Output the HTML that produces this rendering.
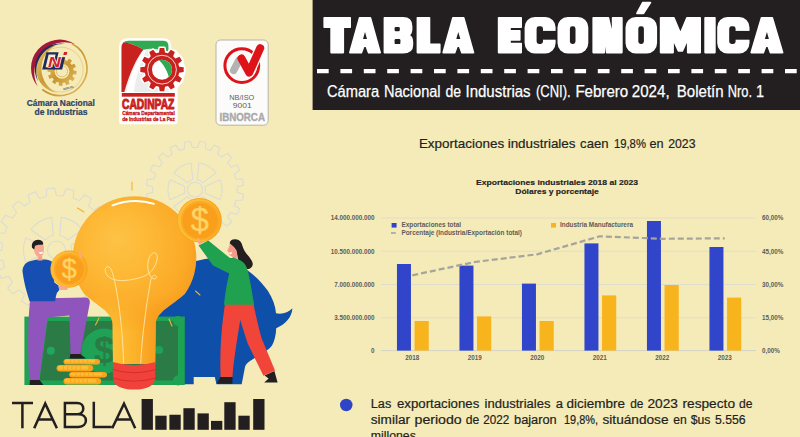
<!DOCTYPE html>
<html><head><meta charset="utf-8"><title>Tabla Económica</title>
<style>
html,body{margin:0;padding:0;background:#f5ebb8;}
body{width:800px;height:437px;overflow:hidden;font-family:"Liberation Sans",sans-serif;}
svg{display:block;font-family:"Liberation Sans",sans-serif;}
</style></head><body>
<svg width="800" height="437" viewBox="0 0 800 437">
<rect width="800" height="437" fill="#f5ebb8"/>
<rect x="312.6" y="0" width="488" height="110" fill="#231f20"/>
<g fill="#fff" stroke="#fff" stroke-width="1.6" stroke-linejoin="round"><path d="M324.2,17.7 L350.2,17.7 L350.2,27.3 L343.3,27.3 L343.3,52.6 L331.1,52.6 L331.1,27.3 L324.2,27.3Z"/><path d="M349.8,52.6 L359.6,17.7 L370.4,17.7 L380.2,52.6 L368.6,52.6 L366.2,46.1 L363.8,46.1 L361.4,52.6Z"/><path d="M384.4,17.7 H402.9 Q411.6,17.7 411.6,26.2 V29.2 Q411.6,33.5 408.8,35.1 Q412.4,36.9 412.4,41.7 V45.2 Q412.4,52.6 402.9,52.6 H384.4Z"/><path d="M417.4,17.7 L429.5,17.7 L429.5,44.3 L439.8,44.3 L439.8,52.6 L417.4,52.6Z"/><path d="M443.1,52.6 L452.9,17.7 L463.7,17.7 L473.5,52.6 L461.9,52.6 L459.5,46.1 L457.1,46.1 L454.7,52.6Z"/><path d="M498.6,17.7 L521.2,17.7 L521.2,27.3 L510,27.3 L510,30.8 L519.8,30.8 L519.8,39.9 L510,39.9 L510,43.5 L521.2,43.5 L521.2,52.6 L498.6,52.6Z"/><path d="M534.9,17.7 h10.4 a9.5,9.5 0 0 1 9.5,9.5 v15.9 a9.5,9.5 0 0 1 -9.5,9.5 h-10.4 a9.5,9.5 0 0 1 -9.5,-9.5 v-15.9 a9.5,9.5 0 0 1 9.5,-9.5Z"/><path d="M567.8,17.7 h10.2 a9.5,9.5 0 0 1 9.5,9.5 v15.9 a9.5,9.5 0 0 1 -9.5,9.5 h-10.2 a9.5,9.5 0 0 1 -9.5,-9.5 v-15.9 a9.5,9.5 0 0 1 9.5,-9.5Z"/><path d="M593.2,17.7 L608.4,17.7 L612.6,36.2 L612.6,17.7 L621.9,17.7 L621.9,52.6 L606.7,52.6 L604.3,34.1 L604.3,52.6 L593.2,52.6Z"/><path d="M635.8,17.7 h11 a9.5,9.5 0 0 1 9.5,9.5 v15.9 a9.5,9.5 0 0 1 -9.5,9.5 h-11 a9.5,9.5 0 0 1 -9.5,-9.5 v-15.9 a9.5,9.5 0 0 1 9.5,-9.5Z"/><path d="M642.7,2.6 L650.5,2.6 L643.5,13.4 L636.9,13.4Z"/><path d="M660.6,17.7 L673.9,17.7 L680.4,33.2 L686.9,17.7 L700.2,17.7 L700.2,52.6 L687.7,52.6 L687.7,39.2 L682.4,51 L678.4,51 L673.1,39.2 L673.1,52.6 L660.6,52.6Z"/><path d="M705.1,17.7 L714.9,17.7 L714.9,52.6 L705.1,52.6Z"/><path d="M727.5,17.7 h11.7 a9.5,9.5 0 0 1 9.5,9.5 v15.9 a9.5,9.5 0 0 1 -9.5,9.5 h-11.7 a9.5,9.5 0 0 1 -9.5,-9.5 v-15.9 a9.5,9.5 0 0 1 9.5,-9.5Z"/><path d="M751.2,52.6 L761.5,17.7 L772.3,17.7 L782.6,52.6 L770.5,52.6 L768.1,46.1 L765.7,46.1 L763.3,52.6Z"/></g><g fill="#231f20"><path d="M365,31.9 L367,38.9 L363,38.9Z"/><path d="M395.8,26.9 h2.8 a1.2,1.2 0 0 1 1.2,1.2 v1.9 a1.2,1.2 0 0 1 -1.2,1.2 h-2.8 a1.2,1.2 0 0 1 -1.2,-1.2 v-1.9 a1.2,1.2 0 0 1 1.2,-1.2Z"/><path d="M395.8,39.1 h3.4 a1.2,1.2 0 0 1 1.2,1.2 v2.6 a1.2,1.2 0 0 1 -1.2,1.2 h-3.4 a1.2,1.2 0 0 1 -1.2,-1.2 v-2.6 a1.2,1.2 0 0 1 1.2,-1.2Z"/><path d="M458.3,31.9 L460.3,38.9 L456.3,38.9Z"/><path d="M539,26.3 h1.6 a2.4,2.4 0 0 1 2.4,2.4 v12.9 a2.4,2.4 0 0 1 -2.4,2.4 h-1.6 a2.4,2.4 0 0 1 -2.4,-2.4 v-12.9 a2.4,2.4 0 0 1 2.4,-2.4Z"/><path d="M539.9,30.9 H556.8 V39.7 H539.9Z"/><path d="M572.3,26.3 h0.8 a2.4,2.4 0 0 1 2.4,2.4 v12.9 a2.4,2.4 0 0 1 -2.4,2.4 h-0.8 a2.4,2.4 0 0 1 -2.4,-2.4 v-12.9 a2.4,2.4 0 0 1 2.4,-2.4Z"/><path d="M640.7,26.3 h0.8 a2.4,2.4 0 0 1 2.4,2.4 v12.9 a2.4,2.4 0 0 1 -2.4,2.4 h-0.8 a2.4,2.4 0 0 1 -2.4,-2.4 v-12.9 a2.4,2.4 0 0 1 2.4,-2.4Z"/><path d="M731.6,26.3 h1.6 a2.4,2.4 0 0 1 2.4,2.4 v12.9 a2.4,2.4 0 0 1 -2.4,2.4 h-1.6 a2.4,2.4 0 0 1 -2.4,-2.4 v-12.9 a2.4,2.4 0 0 1 2.4,-2.4Z"/><path d="M732.5,30.9 H750.7 V39.7 H732.5Z"/><path d="M766.9,31.9 L768.9,38.9 L764.9,38.9Z"/></g>
<line x1="317" y1="71.2" x2="800" y2="71.2" stroke="#fff" stroke-width="4.3" stroke-dasharray="11.7 11.7"/>
<g font-size="16" fill="#fff" stroke="#fff" stroke-width="0.25">
<text x="326.9" y="96.6" textLength="52.2" lengthAdjust="spacingAndGlyphs">Cámara</text>
<text x="383.9" y="96.6" textLength="56.7" lengthAdjust="spacingAndGlyphs">Nacional</text>
<text x="445.4" y="96.6" textLength="15.6" lengthAdjust="spacingAndGlyphs">de</text>
<text x="465.5" y="96.6" textLength="65.1" lengthAdjust="spacingAndGlyphs">Industrias</text>
<text x="536" y="96.6" textLength="34.6" lengthAdjust="spacingAndGlyphs">(CNI).</text>
<text x="575.4" y="96.6" textLength="52.8" lengthAdjust="spacingAndGlyphs">Febrero</text>
<text x="631.8" y="96.6" textLength="37.8" lengthAdjust="spacingAndGlyphs">2024,</text>
<text x="676.8" y="96.6" textLength="46.8" lengthAdjust="spacingAndGlyphs">Boletín</text>
<text x="727.8" y="96.6" textLength="24.3" lengthAdjust="spacingAndGlyphs">Nro.</text>
<text x="756" y="96.6" textLength="8.1" lengthAdjust="spacingAndGlyphs">1</text>
</g>
<g font-size="13" fill="#231f20" stroke="#231f20" stroke-width="0.2"><text x="418.9" y="147.8" textLength="85.3" lengthAdjust="spacingAndGlyphs">Exportaciones</text><text x="507.7" y="147.8" textLength="67.8" lengthAdjust="spacingAndGlyphs">industriales</text><text x="580.1" y="147.8" textLength="28.4" lengthAdjust="spacingAndGlyphs">caen</text><text x="613.9" y="147.8" textLength="32.1" lengthAdjust="spacingAndGlyphs">19,8%</text><text x="649.5" y="147.8" textLength="14.1" lengthAdjust="spacingAndGlyphs">en</text><text x="668.2" y="147.8" textLength="27.3" lengthAdjust="spacingAndGlyphs">2023</text></g>
<g font-weight="bold" font-size="7.6" fill="#222" stroke="#222" stroke-width="0.15" text-anchor="middle"><text x="557" y="185" textLength="162" lengthAdjust="spacingAndGlyphs">Exportaciones industriales 2018 al 2023</text><text x="557" y="194.3" textLength="83.5" lengthAdjust="spacingAndGlyphs">Dólares y porcentaje</text></g>
<line x1="381" y1="218" x2="756" y2="218" stroke="#dfddcc" stroke-width="1"/>
<line x1="381" y1="251.25" x2="756" y2="251.25" stroke="#dfddcc" stroke-width="1"/>
<line x1="381" y1="284.5" x2="756" y2="284.5" stroke="#dfddcc" stroke-width="1"/>
<line x1="381" y1="317.75" x2="756" y2="317.75" stroke="#dfddcc" stroke-width="1"/>
<line x1="381" y1="350.6" x2="756" y2="350.6" stroke="#d3d2c6" stroke-width="1"/>
<g font-size="6.3" fill="#5c5c5c" font-weight="bold">
<text x="374.6" y="220.3" text-anchor="end">14.000.000.000</text>
<text x="762" y="220.3">60,00%</text>
<text x="374.6" y="253.55" text-anchor="end">10.500.000.000</text>
<text x="762" y="253.55">45,00%</text>
<text x="374.6" y="286.8" text-anchor="end">7.000.000.000</text>
<text x="762" y="286.8">30,00%</text>
<text x="374.6" y="320.05" text-anchor="end">3.500.000.000</text>
<text x="762" y="320.05">15,00%</text>
<text x="374.6" y="352.9" text-anchor="end">0</text>
<text x="762" y="352.9">0,00%</text>
<text x="412.25" y="359.7" text-anchor="middle">2018</text>
<text x="474.75" y="359.7" text-anchor="middle">2019</text>
<text x="537.25" y="359.7" text-anchor="middle">2020</text>
<text x="599.75" y="359.7" text-anchor="middle">2021</text>
<text x="662.25" y="359.7" text-anchor="middle">2022</text>
<text x="724.75" y="359.7" text-anchor="middle">2023</text>
</g>
<rect x="396.95" y="264" width="14" height="86.6" fill="#3145cb"/>
<rect x="414.55" y="321" width="14.2" height="29.6" fill="#f8b41d"/>
<rect x="459.45" y="265.6" width="14" height="85" fill="#3145cb"/>
<rect x="477.05" y="316.4" width="14.2" height="34.2" fill="#f8b41d"/>
<rect x="521.95" y="283.6" width="14" height="67" fill="#3145cb"/>
<rect x="539.55" y="321" width="14.2" height="29.6" fill="#f8b41d"/>
<rect x="584.45" y="243.4" width="14" height="107.2" fill="#3145cb"/>
<rect x="602.05" y="295.4" width="14.2" height="55.2" fill="#f8b41d"/>
<rect x="646.95" y="221" width="14" height="129.6" fill="#3145cb"/>
<rect x="664.55" y="285" width="14.2" height="65.6" fill="#f8b41d"/>
<rect x="709.45" y="247" width="14" height="103.6" fill="#3145cb"/>
<rect x="727.05" y="297.6" width="14.2" height="53" fill="#f8b41d"/>
<polyline points="412.25,275.3 474.75,262 537.25,254.3 599.75,236.3 662.25,238.8 724.75,238.3" fill="none" stroke="#a6a49d" stroke-width="2.2" stroke-dasharray="6 3"/>
<rect x="391.6" y="223" width="5" height="4.6" fill="#3145cb"/>
<rect x="551" y="223" width="5" height="4.6" fill="#f8b41d"/>
<line x1="391" y1="233" x2="395.8" y2="233" stroke="#a3a3a3" stroke-width="1.6"/>
<g font-size="6.3" fill="#5c5c5c" font-weight="bold"><text x="401.4" y="227.4" textLength="59.6" lengthAdjust="spacingAndGlyphs">Exportaciones total</text><text x="560" y="227.4" textLength="73" lengthAdjust="spacingAndGlyphs">Industria Manufacturera</text><text x="401.4" y="235.4" textLength="120.6" lengthAdjust="spacingAndGlyphs">Porcentaje (Industria/Exportación total)</text></g>
<circle cx="346.25" cy="405" r="6.25" fill="#2f45c5"/>
<g font-size="12" fill="#231f20" stroke="#231f20" stroke-width="0.2">
<text x="370.75" y="408.25" textLength="20.5" lengthAdjust="spacingAndGlyphs">Las</text>
<text x="397" y="408.25" textLength="82.25" lengthAdjust="spacingAndGlyphs">exportaciones</text>
<text x="484.5" y="408.25" textLength="66" lengthAdjust="spacingAndGlyphs">industriales</text>
<text x="555.75" y="408.25" textLength="7.25" lengthAdjust="spacingAndGlyphs">a</text>
<text x="566.5" y="408.25" textLength="58.5" lengthAdjust="spacingAndGlyphs">diciembre</text>
<text x="630.25" y="408.25" textLength="13.25" lengthAdjust="spacingAndGlyphs">de</text>
<text x="647.5" y="408.25" textLength="30.5" lengthAdjust="spacingAndGlyphs">2023</text>
<text x="682.5" y="408.25" textLength="52.5" lengthAdjust="spacingAndGlyphs">respecto</text>
<text x="739" y="408.25" textLength="13.5" lengthAdjust="spacingAndGlyphs">de</text>
<text x="370.75" y="424.25" textLength="39.25" lengthAdjust="spacingAndGlyphs">similar</text>
<text x="414.5" y="424.25" textLength="47.25" lengthAdjust="spacingAndGlyphs">periodo</text>
<text x="465.75" y="424.25" textLength="13.5" lengthAdjust="spacingAndGlyphs">de</text>
<text x="483.25" y="424.25" textLength="26" lengthAdjust="spacingAndGlyphs">2022</text>
<text x="514" y="424.25" textLength="42.75" lengthAdjust="spacingAndGlyphs">bajaron</text>
<text x="564" y="424.25" textLength="34" lengthAdjust="spacingAndGlyphs">19,8%,</text>
<text x="602.5" y="424.25" textLength="66" lengthAdjust="spacingAndGlyphs">situándose</text>
<text x="673.25" y="424.25" textLength="13.5" lengthAdjust="spacingAndGlyphs">en</text>
<text x="690.75" y="424.25" textLength="19.75" lengthAdjust="spacingAndGlyphs">$us</text>
<text x="715" y="424.25" textLength="30.5" lengthAdjust="spacingAndGlyphs">5.556</text>
<text x="370.75" y="440.25" textLength="48.5" lengthAdjust="spacingAndGlyphs">millones.</text>
</g>
<defs><linearGradient id="gold" x1="0" y1="0" x2="1" y2="1"><stop offset="0" stop-color="#e9c977"/><stop offset="0.5" stop-color="#c9952f"/><stop offset="1" stop-color="#e3bd63"/></linearGradient></defs>
<path d="M72.46,44.01 A27.4,27.4 0 1 1 42.73,89.79" fill="none" stroke="url(#gold)" stroke-width="1.7" stroke-linecap="round"/>
<path fill="url(#gold)" d="M58.29,93.11 A24.2,24.2 0 0 1 57.03,45.04 A25.9,25.9 0 0 0 58.29,93.11Z"/>
<circle cx="60.8" cy="69.6" r="22.4" fill="none" stroke="#d9b25a" stroke-width="0.6" opacity="0.8"/>
<path fill="#a3173a" d="M37.69,86.58 A28.6,28.6 0 0 1 74.76,43.95 A30.4,30.4 0 0 0 37.69,86.58Z"/>
<path fill="#1d2c5c" d="M38.2,81.5 A25.4,25.4 0 0 1 65.48,43.96 A27.3,27.3 0 0 0 38.2,81.5Z"/>
<path fill="url(#gold)" d="M73.57,70.52 L76.6,70.93 L76.23,74.57 L73.19,74.37 L72.41,76.41 L74.83,78.27 L72.69,81.24 L70.16,79.55 L68.46,80.93 L69.62,83.75 L66.29,85.26 L64.94,82.52 L62.78,82.87 L62.37,85.9 L58.73,85.53 L58.93,82.49 L56.89,81.71 L55.03,84.13 L52.06,81.99 L53.75,79.46 L52.37,77.76 L49.55,78.92 L48.04,75.59 L50.78,74.24 L50.43,72.08 L47.4,71.67 L47.77,68.03 L50.81,68.23 L51.59,66.19 L49.17,64.33 L51.31,61.36 L53.84,63.05 L55.54,61.67 L54.38,58.85 L57.71,57.34 L59.06,60.08 L61.22,59.73 L61.63,56.7 L65.27,57.07 L65.07,60.11 L67.11,60.89 L68.97,58.47 L71.94,60.61 L70.25,63.14 L71.63,64.84 L74.45,63.68 L75.96,67.01 L73.22,68.36Z"/>
<circle cx="62" cy="71.3" r="7.4" fill="#f5ebb8"/><circle cx="62" cy="71.3" r="5.6" fill="none" stroke="#d9b25a" stroke-width="0.8"/>
<g transform="translate(0,0)">
<path fill="#1d2c5c" fill-rule="evenodd" d="M46.4,52.2 L58.6,52.2 L54.4,69.6 L42.2,69.6Z M48.6,54.6 L55.6,54.6 L52.6,67.2 L45.6,67.2Z"/>
<path fill="#1d2c5c" d="M61.4,57.2 L65,57.2 L62.2,69.6 L53.6,69.6 L54.2,67.2 L59.2,67.2Z"/>
<text x="54.3" y="67.3" font-size="15.4" font-weight="bold" font-style="italic" text-anchor="middle" fill="#d3202f" stroke="#fff" stroke-width="1.2" paint-order="stroke" textLength="12.8" lengthAdjust="spacingAndGlyphs">N</text>
<path fill="#d3202f" d="M64,52 L67.3,52 L66.6,55 L63.3,55Z"/>
</g>
<text transform="translate(63.4,90.2) rotate(-14)" font-size="2.6" font-weight="bold" fill="#1d2c5c" textLength="10.5" lengthAdjust="spacingAndGlyphs">DESDE 1931</text>
<g font-size="8.3" font-weight="bold" fill="#2c4464" stroke="#2c4464" stroke-width="0.2" text-anchor="middle"><text x="60.8" y="105.8" textLength="68" lengthAdjust="spacingAndGlyphs">Cámara Nacional</text><text x="61.05" y="115.2" textLength="52.9" lengthAdjust="spacingAndGlyphs">de Industrias</text></g>
<path fill="#fff" d="M127.5,38.2 L164,38.2 Q170.5,38.2 171,45 L171.6,50 Q176,48.6 177.5,52 L182,56.5 Q184,58.5 183.4,61 L185.6,68 L185.4,72.5 L183.6,79 Q184,82 181.5,83.5 L177.6,88 L177.6,121 Q177.6,124.2 174.5,124.2 L122,124.2 Q119,124.2 119,121 L119,47 Q119,38.2 127.5,38.2Z"/>
<clipPath id="cq"><path d="M128.5,40.8 L163,40.8 Q168.4,40.8 168.4,46.2 L168.4,92 L121.5,92 L121.5,47.8 Q121.5,40.8 128.5,40.8Z"/></clipPath>
<g clip-path="url(#cq)">
<rect x="121" y="40" width="48" height="53" fill="#ececec"/>
<path fill="#2faa52" d="M121,40 L169,40 L169,52 C160,49 150,48 143.5,49.7 C136,45 128,42.5 121,42.5Z"/>
<path fill="#c9211e" d="M121,42 C128,42.5 137,45.5 143.5,49.7 C137,57 130,72 124.3,92 L121,92Z"/>
<path fill="#fff" d="M143.5,49.7 C139,56 131,73 126.2,92 L134,92 C136,75 141,60 146.5,50.5Z"/>
</g>
<path d="M179.14,66.66 L183.68,67.37 L183.68,71.93 L179.14,72.64 L178.34,75.63 L181.92,78.52 L179.64,82.46 L175.35,80.81 L173.16,83 L174.81,87.29 L170.87,89.57 L167.98,85.99 L164.99,86.79 L164.28,91.33 L159.72,91.33 L159.01,86.79 L156.02,85.99 L153.13,89.57 L149.19,87.29 L150.84,83 L148.65,80.81 L144.36,82.46 L142.08,78.52 L145.66,75.63 L144.86,72.64 L140.32,71.93 L140.32,67.37 L144.86,66.66 L145.66,63.67 L142.08,60.78 L144.36,56.84 L148.65,58.49 L150.84,56.3 L149.19,52.01 L153.13,49.73 L156.02,53.31 L159.01,52.51 L159.72,47.97 L164.28,47.97 L164.99,52.51 L167.98,53.31 L170.87,49.73 L174.81,52.01 L173.16,56.3 L175.35,58.49 L179.64,56.84 L181.92,60.78 L178.34,63.67Z" fill="#fff" stroke="#fff" stroke-width="3" stroke-linejoin="round"/>
<path d="M179.14,66.66 L183.68,67.37 L183.68,71.93 L179.14,72.64 L178.34,75.63 L181.92,78.52 L179.64,82.46 L175.35,80.81 L173.16,83 L174.81,87.29 L170.87,89.57 L167.98,85.99 L164.99,86.79 L164.28,91.33 L159.72,91.33 L159.01,86.79 L156.02,85.99 L153.13,89.57 L149.19,87.29 L150.84,83 L148.65,80.81 L144.36,82.46 L142.08,78.52 L145.66,75.63 L144.86,72.64 L140.32,71.93 L140.32,67.37 L144.86,66.66 L145.66,63.67 L142.08,60.78 L144.36,56.84 L148.65,58.49 L150.84,56.3 L149.19,52.01 L153.13,49.73 L156.02,53.31 L159.01,52.51 L159.72,47.97 L164.28,47.97 L164.99,52.51 L167.98,53.31 L170.87,49.73 L174.81,52.01 L173.16,56.3 L175.35,58.49 L179.64,56.84 L181.92,60.78 L178.34,63.67Z" fill="#c9211e"/>
<circle cx="162" cy="69.65" r="14.4" fill="none" stroke="#fff" stroke-width="0.8"/>
<circle cx="162" cy="69.65" r="10" fill="#fff"/>
<clipPath id="cg"><circle cx="162" cy="69.65" r="10"/></clipPath>
<path clip-path="url(#cg)" fill="#2faa52" d="M157.5,59 C164,64 168,72 169.5,80 L175,80 L175,58Z"/>
<rect x="121.8" y="93" width="53" height="3.7" fill="#c9211e"/>
<g fill="#c9211e" font-weight="bold" stroke="#c9211e">
<text x="122" y="108.6" font-size="14.2" stroke-width="1" textLength="52.4" lengthAdjust="spacingAndGlyphs">CADINPAZ</text>
<text x="122.2" y="115.4" font-size="5.8" stroke-width="0.35" textLength="52.6" lengthAdjust="spacingAndGlyphs">Cámara Departamental</text>
<text x="122.2" y="121.1" font-size="5.8" stroke-width="0.35" textLength="52.6" lengthAdjust="spacingAndGlyphs">de Industrias de La Paz</text>
</g>
<rect x="216" y="40" width="52.2" height="85.2" rx="4.5" fill="#fbfbfa" stroke="#b9b3a6" stroke-width="1"/>
<circle cx="241.8" cy="65.6" r="16.9" fill="none" stroke="#de1219" stroke-width="3"/>
<path d="M241.4,58.4 L249.2,72.6 L260.2,48.2" stroke="#fbfbfa" stroke-width="10.6" stroke-linecap="round" stroke-linejoin="round" fill="none"/>
<path d="M233.6,70.4 L238.8,60.6" stroke="#b3b3b3" stroke-width="7.4" stroke-linecap="round" fill="none"/>
<path d="M241.4,58.4 L249.2,72.6 L260.2,48.2" stroke="#de1219" stroke-width="8" stroke-linecap="round" stroke-linejoin="round" fill="none"/>
<g font-size="6.8" fill="#5f5f5f" text-anchor="middle"><text x="241.8" y="100" textLength="25" lengthAdjust="spacingAndGlyphs">NB/ISO</text><text x="242.3" y="108.3" textLength="19" lengthAdjust="spacingAndGlyphs">9001</text></g>
<text x="242.2" y="121.2" font-size="10" font-weight="bold" fill="#a8a8aa" stroke="#a8a8aa" stroke-width="0.3" text-anchor="middle" textLength="45.5" lengthAdjust="spacingAndGlyphs">IBNORCA</text>
<defs><radialGradient id="bg1" cx="122" cy="250" r="84" fx="116" fy="238" gradientUnits="userSpaceOnUse"><stop offset="0" stop-color="#fec246"/><stop offset="0.4" stop-color="#fdb835"/><stop offset="0.78" stop-color="#fbaa27"/><stop offset="1" stop-color="#f8991d"/></radialGradient><linearGradient id="neck" x1="111" y1="0" x2="158" y2="0" gradientUnits="userSpaceOnUse"><stop offset="0" stop-color="#fdc139"/><stop offset="0.45" stop-color="#fcb42c"/><stop offset="1" stop-color="#f89c1e"/></linearGradient><linearGradient id="fade" x1="0" y1="296" x2="0" y2="332" gradientUnits="userSpaceOnUse"><stop offset="0" stop-color="#000"/><stop offset="1" stop-color="#fff"/></linearGradient><mask id="nm" maskUnits="userSpaceOnUse" x="60" y="280" width="160" height="100"><rect x="60" y="280" width="160" height="100" fill="url(#fade)"/></mask><clipPath id="bulbclip"><path d="M113,364 L112.6,324 C112.6,312 96,305 84.2,294 A61.8,61.8 0 1 1 184.8,294 C173,305 155.8,312 155.8,324 L155.2,364Z"/></clipPath></defs>
<g fill="none" stroke="#dadcd6" stroke-width="1.1" stroke-linejoin="round">
<path d="M110.58,256.73 L117.76,259.58 L116.07,267.18 L108.36,266.74 L105.86,273.11 L111.8,278.04 L107.85,284.75 L100.65,281.95 L96.3,287.23 L100.42,293.76 L94.59,298.92 L88.62,294.03 L82.85,297.71 L84.75,305.19 L77.61,308.29 L73.44,301.8 L66.81,303.52 L66.32,311.22 L58.57,311.97 L56.6,304.5 L49.77,304.08 L46.92,311.26 L39.32,309.57 L39.76,301.86 L33.39,299.36 L28.46,305.3 L21.75,301.35 L24.55,294.15 L19.27,289.8 L12.74,293.92 L7.58,288.09 L12.47,282.12 L8.79,276.35 L1.31,278.25 L-1.79,271.11 L4.7,266.94 L2.98,260.31 L-4.72,259.82 L-5.47,252.07 L2,250.1 L2.42,243.27 L-4.76,240.42 L-3.07,232.82 L4.64,233.26 L7.14,226.89 L1.2,221.96 L5.15,215.25 L12.35,218.05 L16.7,212.77 L12.58,206.24 L18.41,201.08 L24.38,205.97 L30.15,202.29 L28.25,194.81 L35.39,191.71 L39.56,198.2 L46.19,196.48 L46.68,188.78 L54.43,188.03 L56.4,195.5 L63.23,195.92 L66.08,188.74 L73.68,190.43 L73.24,198.14 L79.61,200.64 L84.54,194.7 L91.25,198.65 L88.45,205.85 L93.73,210.2 L100.26,206.08 L105.42,211.91 L100.53,217.88 L104.21,223.65 L111.69,221.75 L114.79,228.89 L108.3,233.06 L110.02,239.69 L117.72,240.18 L118.47,247.93 L111,249.9Z"/>
<circle cx="56.5" cy="250" r="9"/>
<path d="M87.18,237.85 A33,33 0 0 1 87.18,262.15 L70.77,254.64 A15,15 0 0 0 70.77,245.36Z M82.36,270.5 A33,33 0 0 1 61.32,282.65 L59.62,264.67 A15,15 0 0 0 67.65,260.04Z M51.68,282.65 A33,33 0 0 1 30.64,270.5 L45.35,260.04 A15,15 0 0 0 53.38,264.67Z M25.82,262.15 A33,33 0 0 1 25.82,237.85 L42.23,245.36 A15,15 0 0 0 42.23,254.64Z M30.64,229.5 A33,33 0 0 1 51.68,217.35 L53.38,235.33 A15,15 0 0 0 45.35,239.96Z M61.32,217.35 A33,33 0 0 1 82.36,229.5 L67.65,239.96 A15,15 0 0 0 59.62,235.33Z"/>
<path d="M237.22,192.35 L243.48,194.28 L242.53,200.32 L235.97,200.22 L234.33,205.27 L239.7,209.04 L236.92,214.49 L230.72,212.36 L227.59,216.66 L231.53,221.9 L227.21,226.23 L221.97,222.29 L217.67,225.41 L219.79,231.62 L214.34,234.39 L210.57,229.03 L205.52,230.67 L205.63,237.23 L199.59,238.18 L197.66,231.92 L192.35,231.92 L190.42,238.18 L184.38,237.23 L184.48,230.67 L179.43,229.03 L175.66,234.4 L170.21,231.62 L172.34,225.42 L168.04,222.29 L162.8,226.23 L158.47,221.91 L162.41,216.67 L159.29,212.37 L153.08,214.49 L150.31,209.04 L155.67,205.27 L154.03,200.22 L147.47,200.33 L146.52,194.29 L152.78,192.36 L152.78,187.05 L146.52,185.12 L147.47,179.08 L154.03,179.18 L155.67,174.13 L150.3,170.36 L153.08,164.91 L159.28,167.04 L162.41,162.74 L158.47,157.5 L162.79,153.17 L168.03,157.11 L172.33,153.99 L170.21,147.78 L175.66,145.01 L179.43,150.37 L184.48,148.73 L184.37,142.17 L190.41,141.22 L192.34,147.48 L197.65,147.48 L199.58,141.22 L205.62,142.17 L205.52,148.73 L210.57,150.37 L214.34,145 L219.79,147.78 L217.66,153.98 L221.96,157.11 L227.2,153.17 L231.53,157.49 L227.59,162.73 L230.71,167.03 L236.92,164.91 L239.69,170.36 L234.33,174.13 L235.97,179.18 L242.53,179.07 L243.48,185.11 L237.22,187.04Z"/>
<circle cx="195" cy="189.7" r="7.5"/>
<path d="M220.1,179.76 A27,27 0 0 1 220.1,199.64 L204.99,192.94 A10.5,10.5 0 0 0 204.99,186.46Z M216.16,206.47 A27,27 0 0 1 198.94,216.41 L197.18,199.97 A10.5,10.5 0 0 0 202.8,196.73Z M191.06,216.41 A27,27 0 0 1 173.84,206.47 L187.2,196.73 A10.5,10.5 0 0 0 192.82,199.97Z M169.9,199.64 A27,27 0 0 1 169.9,179.76 L185.01,186.46 A10.5,10.5 0 0 0 185.01,192.94Z M173.84,172.93 A27,27 0 0 1 191.06,162.99 L192.82,179.43 A10.5,10.5 0 0 0 187.2,182.67Z M198.94,162.99 A27,27 0 0 1 216.16,172.93 L202.8,182.67 A10.5,10.5 0 0 0 197.18,179.43Z"/>
</g>
<path fill="#0e4fa9" d="M150,384.2 L150,290 C165,268 200,257.5 218,258 C236,259.5 256,274 268,291 C272.5,298 275.5,306 276,313.2 C282,314.6 288.5,312.5 292.4,308.3 C292,317 285.5,324.5 276.2,328.2 C276,335 274.5,341 272,345.5 C268,351 256,357 250,361 C247,363 245.5,365 245,367 L241.7,384.2 L216.5,384.2 L214.8,377 L193.7,377 L193.7,384.2Z"/>
<rect x="24.4" y="316.6" width="160.4" height="68.4" fill="#1ea352"/>
<path fill="#2a7b46" d="M47.5,321 L178,321 L178,380.5 L39.5,380.5Z"/>
<circle cx="104" cy="351" r="22.5" fill="#1fa255"/>
<circle cx="50.8" cy="350.7" r="4" fill="#1fa75e"/><circle cx="159" cy="350" r="4" fill="#1fa255"/>
<circle cx="178" cy="321" r="5" fill="#1ea352"/><circle cx="178" cy="380.5" r="5" fill="#1ea352"/>
<text x="104.4" y="363.2" font-size="37.5" font-weight="bold" text-anchor="middle" fill="#2a7b46">$</text>
<g stroke="#f7b02c" stroke-width="1.1" stroke-linecap="round"><line x1="132" y1="182" x2="132" y2="190"/><line x1="77.5" y1="208" x2="84" y2="212"/><line x1="195.5" y1="291" x2="200" y2="295"/><line x1="169" y1="319" x2="172" y2="326"/><line x1="99" y1="318" x2="95.5" y2="325"/></g>
<path fill="url(#bg1)" d="M113,364 L112.6,324 C112.6,312 96,305 84.2,294 A61.8,61.8 0 1 1 184.8,294 C173,305 155.8,312 155.8,324 L155.2,364Z"/>
<g clip-path="url(#bulbclip)"><rect x="80" y="290" width="110" height="76" fill="url(#neck)" mask="url(#nm)"/></g>
<path d="M112.4,205.4 Q133,197.6 154,203.8" fill="none" stroke="#fff" stroke-width="1.9" stroke-linecap="round"/>
<g fill="none" stroke="#fde7a8" stroke-width="0.9" stroke-linecap="round"><path d="M123.6,363 C123,340 120,305 115,283 C113.5,276 112,268 108.5,266.8 C105,266 104,271 107,275 C111,281 122,281.5 132,279.5 C140,278 146,276 150,272.5 C155,268 159,258 156.5,254 C154,250.5 149,255 148,262 C147,269 149,276 153,278.5 C156,280 157.5,277 155.5,275.5 C154,274.5 151.5,276.5 150.8,280 C147,300 142,335 140.7,363"/></g>
<path fill="#f0423a" d="M112.9,362 Q134,368.5 155.3,362 L155.3,377 Q155,389.6 134.1,389.6 Q113.4,389.6 112.9,377Z"/>
<g fill="none" stroke="#d22f2b" stroke-width="1"><path d="M112.6,369.5 Q134,376 155.8,369.5"/><path d="M113,378 Q134,384.5 155.4,378"/></g>
<rect x="63.5" y="358.9" width="36.5" height="5.6" rx="3.1" fill="#f9a41c"/>
<rect x="64.7" y="359.6" width="30.5" height="3" rx="1.6" fill="#fdbd35"/>
<line x1="70.5" y1="359.6" x2="70.5" y2="363" stroke="#f9a41c" stroke-width="0.9"/>
<line x1="74.7" y1="359.6" x2="74.7" y2="363" stroke="#f9a41c" stroke-width="0.9"/>
<line x1="78.9" y1="359.6" x2="78.9" y2="363" stroke="#f9a41c" stroke-width="0.9"/>
<line x1="83.1" y1="359.6" x2="83.1" y2="363" stroke="#f9a41c" stroke-width="0.9"/>
<line x1="87.3" y1="359.6" x2="87.3" y2="363" stroke="#f9a41c" stroke-width="0.9"/>
<rect x="56.6" y="365.1" width="36.6" height="6.3" rx="3.45" fill="#f9a41c"/>
<rect x="57.8" y="365.8" width="30.6" height="3.7" rx="1.95" fill="#fdbd35"/>
<line x1="63.6" y1="365.8" x2="63.6" y2="369.9" stroke="#f9a41c" stroke-width="0.9"/>
<line x1="67.8" y1="365.8" x2="67.8" y2="369.9" stroke="#f9a41c" stroke-width="0.9"/>
<line x1="72" y1="365.8" x2="72" y2="369.9" stroke="#f9a41c" stroke-width="0.9"/>
<line x1="76.2" y1="365.8" x2="76.2" y2="369.9" stroke="#f9a41c" stroke-width="0.9"/>
<line x1="80.4" y1="365.8" x2="80.4" y2="369.9" stroke="#f9a41c" stroke-width="0.9"/>
<rect x="69.2" y="372" width="37.8" height="5.5" rx="3.05" fill="#f9a41c"/>
<rect x="70.4" y="372.7" width="31.8" height="2.9" rx="1.55" fill="#fdbd35"/>
<line x1="76.2" y1="372.7" x2="76.2" y2="376" stroke="#f9a41c" stroke-width="0.9"/>
<line x1="80.4" y1="372.7" x2="80.4" y2="376" stroke="#f9a41c" stroke-width="0.9"/>
<line x1="84.6" y1="372.7" x2="84.6" y2="376" stroke="#f9a41c" stroke-width="0.9"/>
<line x1="88.8" y1="372.7" x2="88.8" y2="376" stroke="#f9a41c" stroke-width="0.9"/>
<line x1="93" y1="372.7" x2="93" y2="376" stroke="#f9a41c" stroke-width="0.9"/>
<rect x="63.5" y="378.1" width="37.7" height="6.3" rx="3.45" fill="#f9a41c"/>
<rect x="64.7" y="378.8" width="31.7" height="3.7" rx="1.95" fill="#fdbd35"/>
<line x1="70.5" y1="378.8" x2="70.5" y2="382.9" stroke="#f9a41c" stroke-width="0.9"/>
<line x1="74.7" y1="378.8" x2="74.7" y2="382.9" stroke="#f9a41c" stroke-width="0.9"/>
<line x1="78.9" y1="378.8" x2="78.9" y2="382.9" stroke="#f9a41c" stroke-width="0.9"/>
<line x1="83.1" y1="378.8" x2="83.1" y2="382.9" stroke="#f9a41c" stroke-width="0.9"/>
<line x1="87.3" y1="378.8" x2="87.3" y2="382.9" stroke="#f9a41c" stroke-width="0.9"/>
<path fill="#9055bc" d="M30,301 L33,298.5 L86,297.5 C90,298 90.6,302 89.2,306 L80.2,354.4 L70.6,354.4 L69.4,315.6 L47.5,317.5 L39.2,380.5 L29.2,380.5 C28,350 27.5,325 30,301Z"/>
<path fill="#231f20" d="M30,380 L39.5,380 L43.5,385 L29.5,385Z"/>
<path fill="#231f20" d="M70.4,354 L80.2,354 L86,358.5 L69.6,358.5Z"/>
<path fill="#164eb2" d="M38.2,259.6 C32,260.4 27,261.6 24.6,264.8 C22.4,267.6 22.2,270.6 22.8,273.6 C23.6,278.6 24.4,283 25.4,287 C26.6,291.8 28.2,296.6 29.6,301.2 L55.2,301.2 C55.6,298 56.2,295 57,292.8 L59.4,289.9 L58.4,285.2 C57,284.4 55.6,283.4 54.3,282.2 L51.8,261.4 C49.6,260.4 47.4,259.8 45.4,259.6Z"/>
<path fill="#f3a08a" d="M38.4,256 L42,256 L42.6,260.6 L37.4,260.6Z"/>
<path fill="#f5a892" d="M33.6,246 C34,243.5 43.6,243 43.9,246.5 C44.2,251 43.2,257.2 39.6,257.2 C36,257.2 33.6,252 33.6,246Z"/>
<path fill="#fff" d="M38.5,252.6 L43,251.8 C42.8,254.2 40,255 38.5,252.6Z"/>
<path fill="#231f20" d="M32,247.8 C31,242.5 34.5,239.6 38.5,239.8 C42,240 43.5,241.8 43.2,244.6 C40.5,245.2 36.5,244.5 35,246 L34.2,249.5Z"/>
<circle cx="69" cy="269.1" r="18.6" fill="#f9a31d"/><circle cx="68.5" cy="269.1" r="17.7" fill="#fdbd34"/><circle cx="69.9" cy="269.3" r="16.2" fill="#fbab25"/><circle cx="69.6" cy="269.5" r="14.2" fill="#f99f1b"/><text x="69.3" y="277.88" font-size="27" text-anchor="middle" fill="#fed465" stroke="#fed465" stroke-width="0.3">$</text>
<path fill="#f5a892" d="M58.4,285.4 C62,285.6 65.4,286.2 68,287.2 C68.2,288.6 67.6,289.6 66.4,289.9 L59.2,289.9Z"/>
<path fill="#f5a892" d="M78.5,252 C80.5,251.5 82.5,254.5 82,259 L79.5,257.2Z"/>
<path fill="#f1453a" d="M225,304 L253.5,304 C256,316 258.5,327 261.5,338 L275,370.6 L263.4,375.8 L247.5,343 L240.2,320 C237.5,338 233.5,360 232.4,377.5 L220.6,377.5 C219.6,352 221.5,326 225,304Z"/>
<path fill="#231f20" d="M220.5,377 L232.5,377 L232.3,383.8 L216.5,383.8Z"/>
<path fill="#231f20" d="M264.6,375.4 L274.4,371 L277.6,382.6 L264.2,382.6 L268.6,378.6Z"/>
<path fill="#231f20" d="M229.8,243.4 C229.6,241 232,239.2 235,239.3 C238,239.4 240.4,240.6 241.4,243 C242.6,246 243.4,249 244.6,251 C246.4,254 249.6,257 251.6,260.4 C253.6,263.6 253,267 250,268.4 C247,269.6 243.6,268.6 241.6,266 C239.6,263.4 238.6,260.6 237.8,258 L235.6,250 L232,246Z"/>
<path fill="#f69b8a" d="M229.9,243.6 C231,244.6 233,246 234.4,247.6 L236.6,250.4 L238,258.6 L233.6,258.6 C233.2,257.6 232.6,256.6 231.4,256 C229.8,255.6 228.8,254.4 229,252.8 L227.2,250.8 C228.4,248.6 229.4,246.4 229.9,243.6Z"/>
<path fill="#fff" d="M229.3,252.4 L232.2,252.2 C232,254 230.4,254.8 229.3,253.8Z"/>
<path fill="#1fa150" d="M198.6,245.6 L208.3,240.6 L229.6,257.8 C231,258.4 232.6,258 233.6,257.6 L238.4,259.4 C241.6,260.6 244.4,262.6 246,266 C249,272 251,287 254.2,304.8 L224,304.8 C225,294 227,283 229.2,273.6 L213,265.4Z"/>
<path fill="#f8a99c" d="M197.2,236.2 C198.6,235.2 201.4,237 203.6,242 L199.4,245 C197.6,242.4 196.6,238.4 197.2,236.2Z"/>
<circle cx="199.6" cy="220.3" r="22.2" fill="#f9a31d"/><circle cx="199.1" cy="220.3" r="21.3" fill="#fdbd34"/><circle cx="200.5" cy="220.5" r="19.8" fill="#fbab25"/><circle cx="200.2" cy="220.7" r="17.8" fill="#f99f1b"/><text x="199.9" y="230.86" font-size="32.5" text-anchor="middle" fill="#fed465" stroke="#fed465" stroke-width="0.3">$</text>
<path fill="#f8a99c" d="M196.9,238.6 C197.6,237.6 199.4,238.4 200.4,241 L198.4,242.4Z"/>
<g fill="none" stroke="#231f20" stroke-width="2.5" stroke-linejoin="miter"><path d="M12,402.95 H33 M22.4,402.95 V428.2"/><path d="M34.2,428.2 L45.25,403.6 L56.9,428.2 M38.2,419.6 H52.6"/><path d="M64.9,401.7 V428.2 M64.9,402.95 H77 C85.4,402.95 85.4,414.25 77,414.25 H64.9 M77,414.25 H78.4 C88.4,414.25 88.4,426.9 78.4,426.9 H64.9"/><path d="M93.8,401.7 V426.9 H111.75"/><path d="M112.2,428.2 L124,403.6 L135.2,428.2 M116.4,419.6 H131.4"/></g>
<rect x="141.6" y="399" width="11.3" height="30.8" fill="#231f20"/>
<rect x="155.3" y="415.7" width="11.3" height="14.1" fill="#231f20"/>
<rect x="169.4" y="414.75" width="11.3" height="15.05" fill="#231f20"/>
<rect x="183.4" y="408.2" width="11.3" height="21.6" fill="#231f20"/>
<rect x="197.5" y="413.4" width="11.3" height="16.4" fill="#231f20"/>
<rect x="211" y="420.9" width="11.3" height="8.9" fill="#231f20"/>
<rect x="224.3" y="402.2" width="11.3" height="27.6" fill="#231f20"/>
<rect x="238.4" y="415.7" width="11.3" height="14.1" fill="#231f20"/>
<rect x="253.2" y="399" width="11.3" height="30.8" fill="#231f20"/>
</svg>
</body></html>
